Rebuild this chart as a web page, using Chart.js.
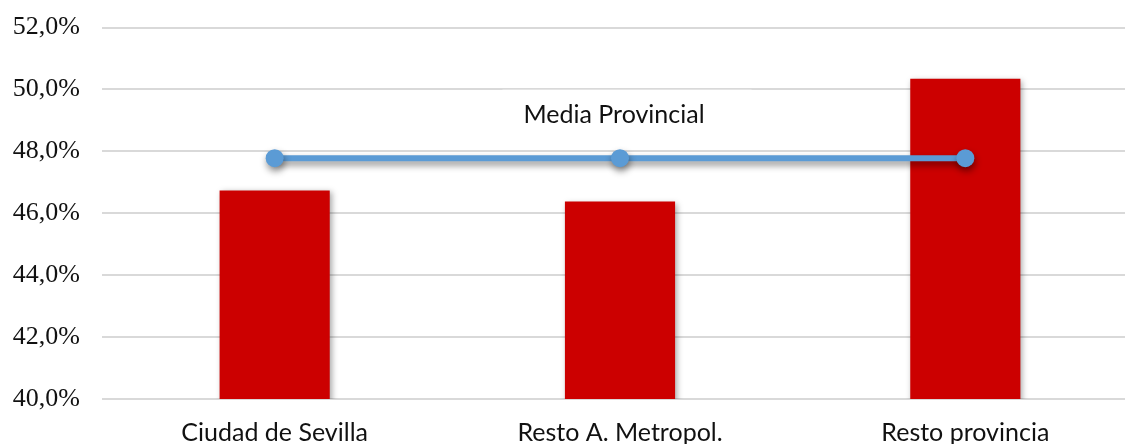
<!DOCTYPE html>
<html>
<head>
<meta charset="utf-8">
<script src="https://cdn.jsdelivr.net/npm/chart.js@4"></script>
<style>
  html, body { margin: 0; padding: 0; background: #fff; overflow: hidden; }
  #wrap { width: 1147px; height: 454px; margin-top: -10px; }
</style>
</head>
<body>
<div id="wrap"><canvas id="chart"></canvas></div>
<script>
// zonas y porcentajes
const zonas = ['Ciudad de Sevilla', 'Resto A. Metropol.', 'Resto provincia'];
const valores = [46.74, 46.38, 50.35];
const mediaProvincial = [47.78, 47.78, 47.78];
const etiquetaMedia = 'Media Provincial';
const ejeMin = 40, ejeMax = 52, ejePaso = 2;

const fmt = v => v.toFixed(1).replace('.', ',') + '%';
const fuenteTexto = '"Lato", "Open Sans", sans-serif';

// sombra suave para barras y linea
const sombra = {
  id: 'sombra',
  beforeDatasetDraw(chart, args) {
    const ctx = chart.ctx;
    ctx.save();
    if (args.meta.type === 'bar') {
      ctx.shadowColor = 'rgba(0,0,0,0.35)';
      ctx.shadowBlur = 6;
      ctx.shadowOffsetX = 2;
      ctx.shadowOffsetY = 2;
    } else {
      ctx.shadowColor = 'rgba(0,0,0,0.45)';
      ctx.shadowBlur = 7;
      ctx.shadowOffsetX = 1;
      ctx.shadowOffsetY = 4;
    }
  },
  afterDatasetDraw(chart) {
    chart.ctx.restore();
  }
};

// rotulo de la media con fondo blanco (se pinta antes de la linea)
const rotulo = {
  id: 'rotulo',
  beforeDatasetsDraw(chart) {
    const ctx = chart.ctx;
    const pt = chart.getDatasetMeta(0).data[1];
    const x = pt.x - 6, y = pt.y - 43;
    ctx.save();
    ctx.font = '25px ' + fuenteTexto;
    const w = ctx.measureText(etiquetaMedia).width;
    ctx.fillStyle = '#fff';
    ctx.fillRect(x - w / 2 - 21, y - 25.5, w + 68, 60);
    ctx.fillStyle = '#111';
    ctx.textAlign = 'center';
    ctx.textBaseline = 'middle';
    ctx.fillText(etiquetaMedia, x, y);
    ctx.restore();
  }
};

new Chart(document.getElementById('chart'), {
  data: {
    labels: zonas,
    datasets: [
      {
        type: 'line',
        label: etiquetaMedia,
        data: mediaProvincial,
        borderColor: '#5B9BD5',
        backgroundColor: '#5B9BD5',
        borderWidth: 6,
        pointRadius: 9,
        pointHoverRadius: 9,
        pointBorderWidth: 0,
        order: 0
      },
      {
        type: 'bar',
        label: 'Porcentaje',
        data: valores,
        backgroundColor: '#CC0000',
        categoryPercentage: 1,
        barPercentage: 0.319,
        order: 1
      }
    ]
  },
  options: {
    responsive: true,
    maintainAspectRatio: false,
    animation: false,
    layout: { padding: { top: 17, right: 2, left: 0, bottom: 0 } },
    plugins: { legend: { display: false }, tooltip: { enabled: false } },
    scales: {
      x: {
        grid: { display: false, drawTicks: false },
        border: { display: false },
        ticks: {
          color: '#111',
          padding: 19,
          font: { family: fuenteTexto, size: 25 }
        },
        afterFit(scale) { scale.height = 45; }
      },
      y: {
        min: ejeMin,
        max: ejeMax,
        grid: { color: '#D9D9D9', lineWidth: 2, drawTicks: false },
        border: { display: false },
        ticks: {
          stepSize: ejePaso,
          color: '#111',
          padding: 22,
          font: { family: '"Liberation Serif", serif', size: 26 },
          callback: v => fmt(v)
        },
        afterFit(scale) { scale.width = 102; }
      }
    }
  },
  plugins: [sombra, rotulo]
});
</script>
</body>
</html>
